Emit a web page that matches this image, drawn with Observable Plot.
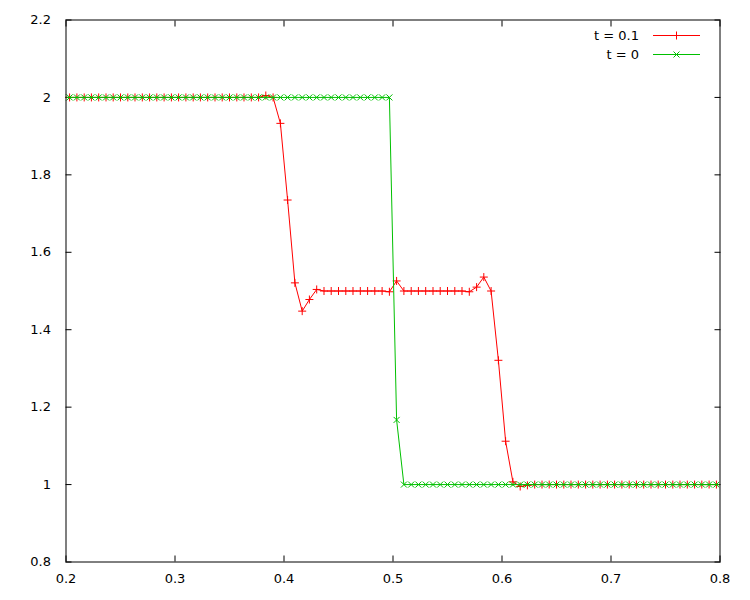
<!DOCTYPE html>
<html>
<head>
<meta charset="utf-8">
<script src="https://cdn.jsdelivr.net/npm/d3@7"></script>
<script src="https://cdn.jsdelivr.net/npm/@observablehq/plot@0.6"></script>
<style>
  html, body { margin: 0; padding: 0; background: #fff; }
</style>
</head>
<body>
<div id="chart"></div>
<script>
// Cell-centre positions
const xCells = [
  0.1967, 0.2033, 0.2100, 0.2167, 0.2233, 0.2300, 0.2367, 0.2433, 0.2500, 0.2567,
  0.2633, 0.2700, 0.2767, 0.2833, 0.2900, 0.2967, 0.3033, 0.3100, 0.3167, 0.3233,
  0.3300, 0.3367, 0.3433, 0.3500, 0.3567, 0.3633, 0.3700, 0.3767, 0.3833, 0.3900,
  0.3967, 0.4033, 0.4100, 0.4167, 0.4233, 0.4300, 0.4367, 0.4433, 0.4500, 0.4567,
  0.4633, 0.4700, 0.4767, 0.4833, 0.4900, 0.4967, 0.5033, 0.5100, 0.5167, 0.5233,
  0.5300, 0.5367, 0.5433, 0.5500, 0.5567, 0.5633, 0.5700, 0.5767, 0.5833, 0.5900,
  0.5967, 0.6033, 0.6100, 0.6167, 0.6233, 0.6300, 0.6367, 0.6433, 0.6500, 0.6567,
  0.6633, 0.6700, 0.6767, 0.6833, 0.6900, 0.6967, 0.7033, 0.7100, 0.7167, 0.7233,
  0.7300, 0.7367, 0.7433, 0.7500, 0.7567, 0.7633, 0.7700, 0.7767, 0.7833, 0.7900,
  0.7967, 0.8033
];

// t = 0.1 series
const seriesT01 = [
  2, 2, 2, 2, 2, 2, 2, 2, 2, 2,
  2, 2, 2, 2, 2, 2, 2, 2, 2, 2,
  2, 2, 2, 2, 2, 2, 2, 2, 2.005, 2,
  1.933, 1.735, 1.521, 1.448, 1.478, 1.504, 1.5, 1.5, 1.5, 1.5,
  1.5, 1.5, 1.5, 1.5, 1.5, 1.498, 1.526, 1.5, 1.5, 1.5,
  1.5, 1.5, 1.5, 1.5, 1.5, 1.5, 1.498, 1.51, 1.536, 1.5,
  1.321, 1.112, 1.007, 0.995, 0.998, 1, 1, 1, 1, 1,
  1, 1, 1, 1, 1, 1, 1, 1, 1, 1,
  1, 1, 1, 1, 1, 1, 1, 1, 1, 1,
  1, 1
];

// t = 0 series
const seriesT0 = [
  2, 2, 2, 2, 2, 2, 2, 2, 2, 2,
  2, 2, 2, 2, 2, 2, 2, 2, 2, 2,
  2, 2, 2, 2, 2, 2, 2, 2, 2, 2,
  2, 2, 2, 2, 2, 2, 2, 2, 2, 2,
  2, 2, 2, 2, 2, 2, 1.167, 1, 1, 1,
  1, 1, 1, 1, 1, 1, 1, 1, 1, 1,
  1, 1, 1, 1, 1, 1, 1, 1, 1, 1,
  1, 1, 1, 1, 1, 1, 1, 1, 1, 1,
  1, 1, 1, 1, 1, 1, 1, 1, 1, 1,
  1, 1
];

const seriesNames = ["t = 0.1", "t = 0"];
const seriesColors = ["#ff0000", "#00c000"];
const xTicks = [0.2, 0.3, 0.4, 0.5, 0.6, 0.7, 0.8];
const yTicks = [0.8, 1, 1.2, 1.4, 1.6, 1.8, 2, 2.2];

const data01 = xCells.map((x, i) => ({x, y: seriesT01[i]}));
const data0 = xCells.map((x, i) => ({x, y: seriesT0[i]}));

const plusSym = { draw(ctx) { const r = 4; ctx.moveTo(-r, 0); ctx.lineTo(r, 0); ctx.moveTo(0, -r); ctx.lineTo(0, r); } };
const timesSym = { draw(ctx) { const r = 3; ctx.moveTo(-r, -r); ctx.lineTo(r, r); ctx.moveTo(-r, r); ctx.lineTo(r, -r); } };

const fmt = d => String(d);
const blank = () => "";

const svg = Plot.plot({
  width: 750,
  height: 600,
  marginLeft: 65.5,
  marginRight: 30.5,
  marginTop: 19.5,
  marginBottom: 38.5,
  style: { fontFamily: "'DejaVu Sans', sans-serif", fontSize: "13px", color: "#000", background: "#fff" },
  x: { domain: [0.2, 0.8] },
  y: { domain: [0.8, 2.2] },
  marks: [
    Plot.axisX(xTicks, { anchor: "bottom", tickSize: 0, tickPadding: 12, tickFormat: fmt, label: null }),
    Plot.axisX(xTicks, { anchor: "bottom", tickSize: -6, tickFormat: blank, label: null }),
    Plot.axisX(xTicks, { anchor: "top", tickSize: -6, tickFormat: blank, label: null }),
    Plot.axisY(yTicks, { anchor: "left", tickSize: 0, tickPadding: 15, tickFormat: fmt, label: null }),
    Plot.axisY(yTicks, { anchor: "left", tickSize: -6, tickFormat: blank, label: null }),
    Plot.axisY(yTicks, { anchor: "right", tickSize: -6, tickFormat: blank, label: null }),
    Plot.line(data01, { x: "x", y: "y", stroke: seriesColors[0], strokeWidth: 1, clip: true }),
    Plot.dot(data01, { x: "x", y: "y", symbol: plusSym, fill: "none", stroke: seriesColors[0], strokeWidth: 1, clip: true }),
    Plot.line(data0, { x: "x", y: "y", stroke: seriesColors[1], strokeWidth: 1, clip: true }),
    Plot.dot(data0, { x: "x", y: "y", symbol: timesSym, fill: "none", stroke: seriesColors[1], strokeWidth: 1, clip: true }),
    Plot.frame({ stroke: "#000", strokeWidth: 1 })
  ]
});

// Legend inside the top-right corner of the frame
const legend = d3.select(svg).append("g").attr("class", "legend");
const legendX = 639, lineX1 = 653, lineX2 = 700;
const legendY = [35, 54];
seriesNames.forEach((name, i) => {
  const y = legendY[i];
  legend.append("text")
    .attr("x", legendX).attr("y", y)
    .attr("text-anchor", "end")
    .attr("dominant-baseline", "central")
    .attr("fill", "#000")
    .style("font-family", "'DejaVu Sans', sans-serif")
    .style("font-size", "13px")
    .text(name);
  legend.append("line")
    .attr("x1", lineX1).attr("x2", lineX2)
    .attr("y1", y + 0.5).attr("y2", y + 0.5)
    .attr("stroke", seriesColors[i]).attr("stroke-width", 1);
  const cx = (lineX1 + lineX2) / 2, cy = y + 0.5;
  const sym = d3.path();
  (i === 0 ? plusSym : timesSym).draw(sym);
  legend.append("path")
    .attr("d", sym.toString())
    .attr("transform", `translate(${cx},${cy})`)
    .attr("fill", "none")
    .attr("stroke", seriesColors[i]).attr("stroke-width", 1);
});

document.getElementById("chart").appendChild(svg);
</script>
</body>
</html>
